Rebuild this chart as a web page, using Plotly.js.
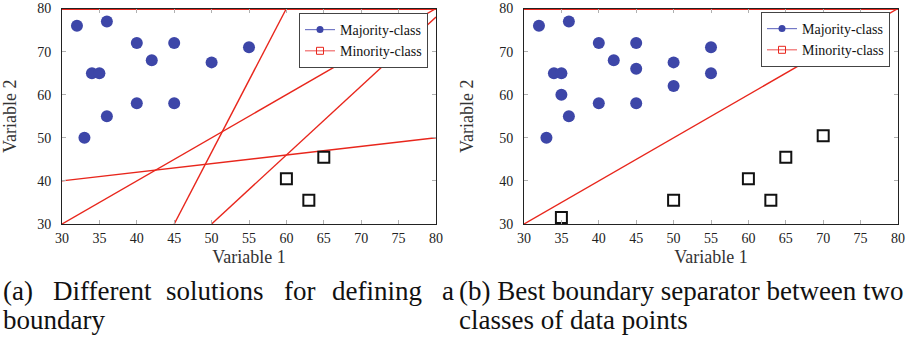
<!DOCTYPE html>
<html>
<head>
<meta charset="utf-8">
<script src="https://cdn.plot.ly/plotly-3.0.1.min.js"></script>
<style>html,body{margin:0;padding:0;background:#fff;}#chart{width:914px;height:340px;}</style>
</head>
<body>
<div id="chart"></div>
<script>
// ---- Data: panel (a) ----
const majorityA_x = [32, 36, 34, 35, 40, 45, 42, 50, 55, 40, 45, 36, 33];
const majorityA_y = [76, 77, 65, 65, 72, 72, 68, 67.5, 71, 58, 58, 55, 50];
const minorityA_x = [60, 63, 65];
const minorityA_y = [40.5, 35.5, 45.5];
const boundA_top_x = [30, 80], boundA_top_y = [80, 80];
const boundA_1_x = [45, 60], boundA_1_y = [30, 80];
const boundA_2_x = [30, 80], boundA_2_y = [30, 80];
const boundA_3_x = [50, 80], boundA_3_y = [30, 78];
const boundA_4_x = [30, 80], boundA_4_y = [40, 50];

// ---- Data: panel (b) ----
const majorityB_x = [32, 36, 34, 35, 35, 36, 33, 40, 40, 42, 45, 45, 45, 50, 50, 55, 55];
const majorityB_y = [76, 77, 65, 65, 60, 55, 50, 72, 58, 68, 72, 66, 58, 67.5, 62, 71, 65];
const minorityB_x = [35, 50, 60, 63, 65, 70];
const minorityB_y = [31.5, 35.5, 40.5, 35.5, 45.5, 50.5];
const boundB_top_x = [30, 80], boundB_top_y = [80, 80];
const boundB_1_x = [30, 80], boundB_1_y = [30, 80];

// ---- Labels ----
const legendNames = ['Majority-class', 'Minority-class'];
const xTickVals = [30, 35, 40, 45, 50, 55, 60, 65, 70, 75, 80];
const yTickVals = [30, 40, 50, 60, 70, 80];
const xTitle = 'Variable 1';
const yTitle = 'Variable 2';

const SERIF = 'Liberation Serif, Times New Roman, serif';
const BLUE = '#3d46a8';
const RED = '#e8261c';

function lineTrace(x, y, ax, w) {
  return {x: x, y: y, xaxis: ax[0], yaxis: ax[1], mode: 'lines', showlegend: false,
          line: {color: RED, width: w || 1.4}, hoverinfo: 'skip'};
}
function majTrace(x, y, ax) {
  return {x: x, y: y, xaxis: ax[0], yaxis: ax[1], mode: 'markers', showlegend: false,
          marker: {symbol: 'circle', size: 12, color: BLUE}};
}
function minTrace(x, y, ax) {
  return {x: x, y: y, xaxis: ax[0], yaxis: ax[1], mode: 'markers', showlegend: false,
          marker: {symbol: 'square-open', size: 11, color: '#111', line: {width: 2, color: '#111'}}};
}
function legendTraces(ax, leg) {
  return [
    {x: [null], y: [null], xaxis: ax[0], yaxis: ax[1], mode: 'lines+markers', name: legendNames[0], legend: leg,
     line: {color: '#7479c6', width: 1.2}, marker: {symbol: 'circle', size: 7, color: BLUE}},
    {x: [null], y: [null], xaxis: ax[0], yaxis: ax[1], mode: 'lines+markers', name: legendNames[1], legend: leg,
     line: {color: '#f06a6a', width: 1.2}, marker: {symbol: 'square-open', size: 7, color: RED, line: {width: 1, color: RED}}}
  ];
}

const A = ['x', 'y'], B = ['x2', 'y2'];
const data = [
  lineTrace(boundA_top_x, boundA_top_y, A, 3),
  lineTrace(boundA_1_x, boundA_1_y, A),
  lineTrace(boundA_2_x, boundA_2_y, A),
  lineTrace(boundA_3_x, boundA_3_y, A),
  lineTrace(boundA_4_x, boundA_4_y, A),
  majTrace(majorityA_x, majorityA_y, A),
  minTrace(minorityA_x, minorityA_y, A),
  lineTrace(boundB_top_x, boundB_top_y, B, 3),
  lineTrace(boundB_1_x, boundB_1_y, B),
  majTrace(majorityB_x, majorityB_y, B),
  minTrace(minorityB_x, minorityB_y, B)
].concat(legendTraces(A, 'legend')).concat(legendTraces(B, 'legend2'));

function xax(domain, anchor) {
  return {domain: domain, anchor: anchor, range: [30, 80], tickvals: xTickVals,
          ticks: 'inside', ticklen: 4, tickcolor: '#b0b0b0', showline: true, linecolor: '#222', linewidth: 1,
          mirror: 'ticks', showgrid: false, zeroline: false, ticklabelstandoff: 1, ticklabeloverflow: 'allow',
          tickfont: {family: SERIF, size: 14, color: '#222'},
          title: {text: xTitle, font: {family: SERIF, size: 18, color: '#333'}, standoff: 5}};
}
function yax(domain, anchor) {
  return {domain: domain, anchor: anchor, range: [30, 80], tickvals: yTickVals,
          ticks: 'inside', ticklen: 4, tickcolor: '#b0b0b0', showline: true, linecolor: '#222', linewidth: 1,
          mirror: 'ticks', showgrid: false, zeroline: false, ticklabelstandoff: 7, ticklabeloverflow: 'allow',
          tickfont: {family: SERIF, size: 14, color: '#222'},
          title: {text: yTitle, font: {family: SERIF, size: 18, color: '#333'}, standoff: 20}};
}

const W = 914, H = 340;
const yDom = [1 - 224 / H, 1 - 8.5 / H];
const legStyle = {bgcolor: '#fff', bordercolor: '#444', borderwidth: 1,
                  font: {family: SERIF, size: 14, color: '#111'}, xanchor: 'right', yanchor: 'top',
                  tracegroupgap: 0, itemwidth: 30};

const capFont = {family: SERIF, size: 27, color: '#111'};
function cap(text, x, y, anchor) {
  return {text: text, xref: 'paper', yref: 'paper', x: x / W, y: 1 - y / H,
          xanchor: anchor || 'left', yanchor: 'middle', showarrow: false, font: capFont};
}
const capWordsA = ['(a)', 'Different', 'solutions', 'for', 'defining', 'a'];
const capPosA = [1, 102.5, 214.5, 299.5, 376.5, 456];
const capAnchorA = ['left', 'center', 'center', 'center', 'center', 'right'];
const annotations = capWordsA.map((w, i) => cap(w, capPosA[i], 291, capAnchorA[i]))
  .concat([cap('boundary', 1, 320),
           cap('(b) Best boundary separator between two', 457, 291),
           cap('classes of data points', 457, 320)]);

const layout = {
  width: W, height: H, margin: {l: 0, r: 0, t: 0, b: 0},
  paper_bgcolor: '#fff', plot_bgcolor: '#fff',
  xaxis: xax([62 / W, 436 / W], 'y'),
  yaxis: yax(yDom, 'x'),
  xaxis2: xax([524 / W, 898 / W], 'y2'),
  yaxis2: yax(yDom, 'x2'),
  legend: Object.assign({}, legStyle, {x: 428 / W, y: 1 - 13 / H}),
  legend2: Object.assign({}, legStyle, {x: 890 / W, y: 1 - 12 / H}),
  annotations: annotations,
  showlegend: true
};

Plotly.newPlot('chart', data, layout, {displayModeBar: false, staticPlot: true});
</script>
</body>
</html>
